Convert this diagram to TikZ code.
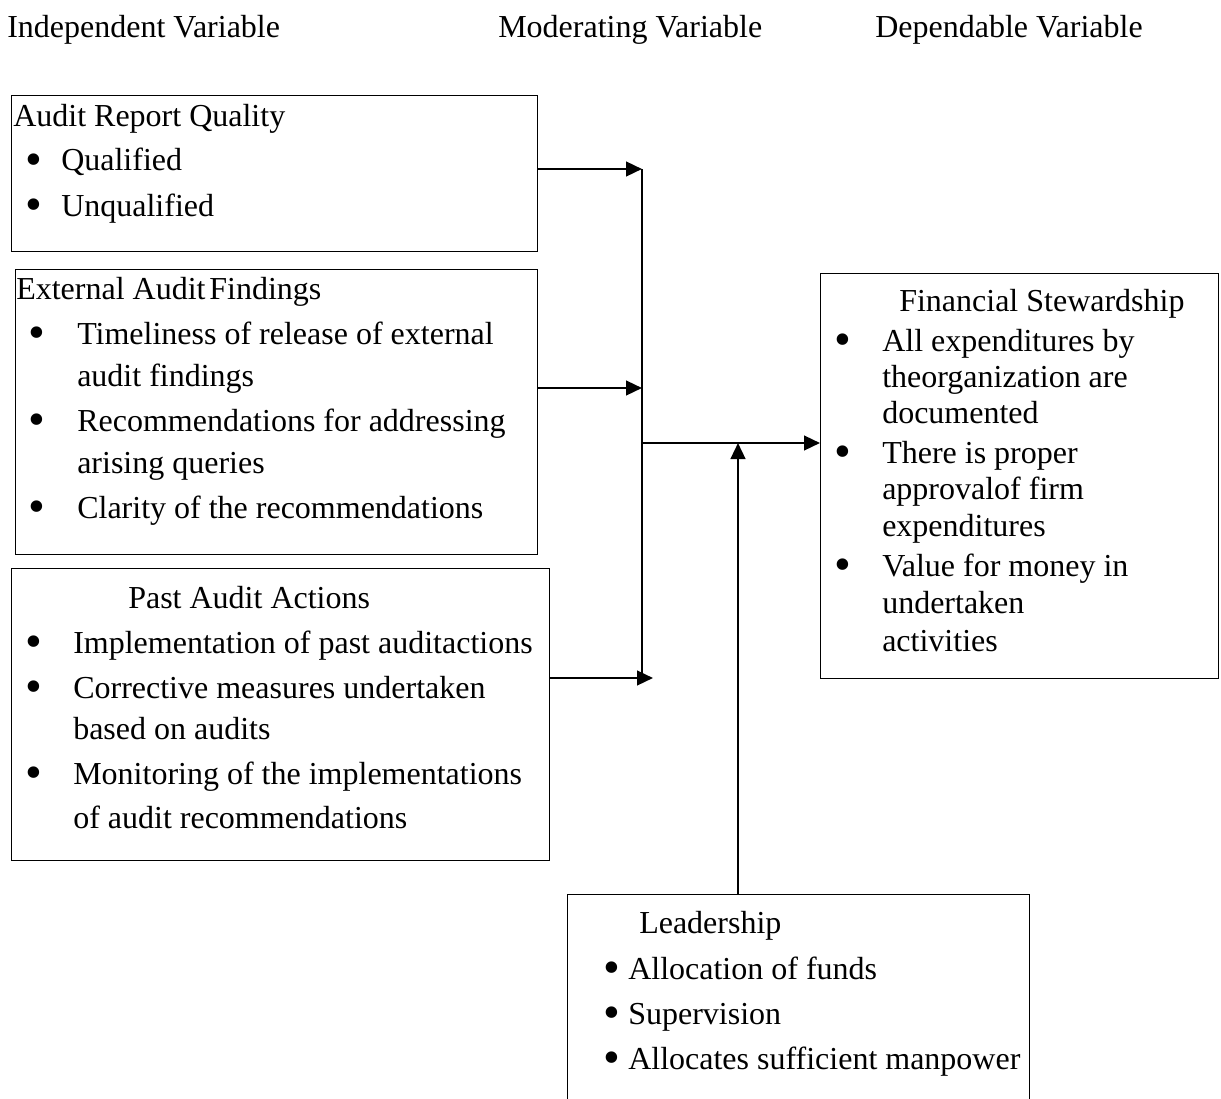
\documentclass[tikz,border=0pt]{standalone}
\usepackage{fontspec}
\setmainfont{Liberation Serif}
\usetikzlibrary{arrows.meta}
\begin{document}
\begin{tikzpicture}[x=0.75pt,y=-0.75pt,
  txt/.style={inner sep=0pt,anchor=base west,font=\fontsize{24pt}{28pt}\selectfont},
  bul/.style={inner sep=0pt,anchor=base west,yshift=-3.5pt,font=\fontsize{36pt}{40pt}\selectfont},
  box/.style={draw=black,line width=0.9pt,inner sep=0pt,anchor=north west},
  conn/.style={line width=1.8pt},
  arr/.style={line width=1.8pt,-{Triangle[length=12pt,width=11pt]}}]
\useasboundingbox (0,0) rectangle (1221,1099);
\clip (0,0) rectangle (1221,1099);

% headers
\node[txt] (h1) at (7,38) {Independent Variable};
\node[txt] (h2) at (498,38) {Moderating Variable};
\node[txt] (h3) at (875,38) {Dependable Variable};

% boxes
\node[box,minimum width={526*0.75pt},minimum height={156*0.75pt}] (arq) at (11,95) {};
\node[box,minimum width={522*0.75pt},minimum height={285*0.75pt}] (eaf) at (15,269) {};
\node[box,minimum width={538*0.75pt},minimum height={292*0.75pt}] (paa) at (11,568) {};
\node[box,minimum width={398*0.75pt},minimum height={405*0.75pt}] (fs) at (820,273) {};
\node[box,minimum width={462*0.75pt},minimum height={240*0.75pt}] (ld) at (567,894) {};

% Audit Report Quality
\node[txt] (t1) at (13,127) {Audit Report Quality};
\node[bul] (b11) at (25,171) {•};
\node[txt] (t11) at (61,171) {Qualified};
\node[bul] (b12) at (25,216) {•};
\node[txt] (t12) at (61,216) {Unqualified};

% External Audit Findings
\node[txt] (t2) at (16,299) {External Audit\hspace{0.12em}Findings};
\node[bul] (b21) at (28,344) {•};
\node[txt] (t21) at (77,344) {Timeliness of release of external};
\node[txt] (t22) at (77,386) {audit findings};
\node[bul] (b22) at (28,431) {•};
\node[txt] (t23) at (77,431) {Recommendations for addressing};
\node[txt] (t24) at (77,473) {arising queries};
\node[bul] (b23) at (28,518) {•};
\node[txt] (t25) at (77,518) {Clarity of the recommendations};

% Past Audit Actions
\node[txt] (t3) at (128,608) {Past Audit Actions};
\node[bul] (b31) at (25,653) {•};
\node[txt] (t31) at (73,653) {Implementation of past auditactions};
\node[bul] (b32) at (25,698) {•};
\node[txt] (t32) at (73,698) {Corrective measures undertaken};
\node[txt] (t33) at (73,739) {based on audits};
\node[bul] (b33) at (25,784) {•};
\node[txt] (t34) at (73,784) {Monitoring of the implementations};
\node[txt] (t35) at (73,828) {of audit recommendations};

% Financial Stewardship
\node[txt] (t4) at (899,311) {Financial Stewardship};
\node[bul] (b41) at (834,351) {•};
\node[txt] (t41) at (882,351) {All expenditures by};
\node[txt] (t42) at (882,387) {theorganization are};
\node[txt] (t43) at (882,423) {documented};
\node[bul] (b42) at (834,463) {•};
\node[txt] (t44) at (882,463) {There is proper};
\node[txt] (t45) at (882,499) {approvalof firm};
\node[txt] (t46) at (882,536) {expenditures};
\node[bul] (b43) at (834,576) {•};
\node[txt] (t47) at (882,576) {Value for money in};
\node[txt] (t48) at (882,613) {undertaken};
\node[txt] (t49) at (882,651) {activities};

% Leadership
\node[txt] (t5) at (639,933) {Leadership};
\node[bul] (b51) at (603,979) {•};
\node[txt] (t51) at (628,979) {Allocation of funds};
\node[bul] (b52) at (603,1024) {•};
\node[txt] (t52) at (628,1024) {Supervision};
\node[bul] (b53) at (603,1069) {•};
\node[txt] (t53) at (628,1069) {Allocates sufficient manpower};

% connectors
\coordinate (j1) at (642,169);
\coordinate (j2) at (642,388);
\coordinate (j3) at (653,678);
\coordinate (jv) at (642,678);
\coordinate (jm) at (642,443);
\coordinate (jl) at (738,443);
\draw[arr] (arq.east |- j1) -- (j1);
\draw[arr] (eaf.east |- j2) -- (j2);
\draw[arr] (paa.east |- j3) -- (j3);
\draw[conn] (j1) -- (jv);
\draw[arr] (jm) -- (fs.west |- jm);
\draw[arr] (ld.north -| jl) -- (jl);
\end{tikzpicture}
\end{document}
